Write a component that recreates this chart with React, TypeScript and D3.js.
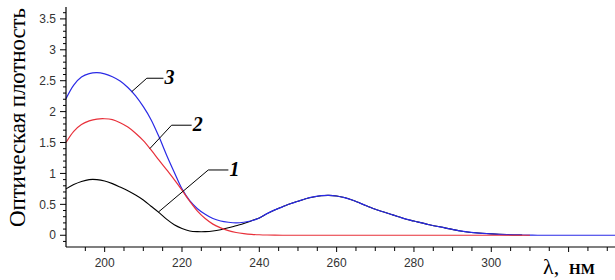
import React from 'react';
import * as d3 from 'd3';

const wavelengths = [
  190, 192, 194, 196, 198, 200, 202, 204, 206, 208, 210, 212, 214, 216, 218, 220,
  222, 224, 226, 228, 230, 232, 234, 236, 238, 240, 242, 244, 246, 248, 250, 252,
  254, 256, 258, 260, 262, 264, 266, 268, 270, 272, 274, 276, 278, 280, 284, 288,
  292, 296, 300, 304, 308, 310, 312, 320, 332,
];

// curve 1 (black)
const series1: (number | null)[] = [
  0.75, 0.82, 0.87, 0.9, 0.9, 0.878, 0.835, 0.78, 0.72, 0.65, 0.57, 0.47, 0.37, 0.26, 0.17, 0.11,
  0.07, 0.058, 0.058, 0.068, 0.09, 0.12, 0.155, 0.19, 0.235, 0.28, 0.35, 0.41, 0.46, 0.51, 0.55, 0.59,
  0.62, 0.64, 0.645, 0.635, 0.61, 0.57, 0.52, 0.47, 0.42, 0.38, 0.34, 0.3, 0.26, 0.23, 0.17, 0.12,
  0.07, 0.04, 0.022, 0.01, 0.004, null, null, null, null,
];

// curve 2 (red)
const series2: (number | null)[] = [
  1.5, 1.68, 1.79, 1.85, 1.88, 1.885, 1.87, 1.82, 1.75, 1.65, 1.53, 1.38, 1.22, 1.06, 0.9, 0.73,
  0.55, 0.39, 0.27, 0.18, 0.12, 0.075, 0.045, 0.027, 0.015, 0.008, 0.004, 0.002, 0, 0, 0, 0,
  0, 0, 0, 0, 0, 0, 0, 0, 0, 0, 0, 0, 0, 0, 0, 0,
  0, 0, 0, 0, 0, 0, null, null, null,
];

// curve 3 (blue)
const series3: (number | null)[] = [
  2.21, 2.43, 2.56, 2.615, 2.63, 2.61, 2.565, 2.495, 2.39, 2.255, 2.08, 1.87, 1.6, 1.3, 1.02, 0.75,
  0.56, 0.43, 0.34, 0.27, 0.23, 0.21, 0.2, 0.21, 0.235, 0.28, 0.35, 0.41, 0.46, 0.51, 0.55, 0.59,
  0.62, 0.64, 0.645, 0.635, 0.61, 0.57, 0.52, 0.47, 0.42, 0.38, 0.34, 0.3, 0.26, 0.23, 0.17, 0.12,
  0.07, 0.04, 0.022, 0.01, 0.004, 0.002, 0, 0, 0,
];

const yTickLabels = ['0', '0.5', '1', '1.5', '2', '2.5', '3', '3.5'];
const xTickLabels = ['200', '220', '240', '260', '280', '300'];

const yTitle = 'Оптическая плотность';
const xTitleSymbol = 'λ,';
const xTitleUnit = 'НМ';

// annotations: label, series, start wavelength on curve, elbow (wavelength, value), end wavelength
const annotations = [
  { label: '1', series: 0, start: 213.9, elbowX: 226.8, elbowY: 1.056, end: 232.0 },
  { label: '2', series: 1, start: 211.7, elbowX: 217.3, elbowY: 1.78, end: 222.5 },
  { label: '3', series: 2, start: 207, elbowX: 210.9, elbowY: 2.54, end: 215.2 },
];

const W = 615;
const H = 280;

export default function App() {
  const x = d3.scaleLinear().domain([190, 332]).range([66, 615]);
  const y = d3.scaleLinear().domain([-0.19, 3.66]).range([247, 9]);

  const allSeries = [series1, series2, series3];
  const colors = ['#000000', '#e8303a', '#2a2ae6'];

  const mk = (vals: (number | null)[]) =>
    d3
      .line<number>()
      .defined((_, i) => vals[i] !== null)
      .x((_, i) => x(wavelengths[i]))
      .y((_, i) => y(vals[i] as number))
      .curve(d3.curveCatmullRom.alpha(0.5))(wavelengths.map((_, i) => i)) || '';

  const valueAt = (vals: (number | null)[], w: number) => {
    const pts = wavelengths
      .map((wl, i) => [wl, vals[i]] as [number, number | null])
      .filter((p) => p[1] !== null) as [number, number][];
    for (let i = 0; i < pts.length - 1; i++) {
      if (w >= pts[i][0] && w <= pts[i + 1][0]) {
        const t = (w - pts[i][0]) / (pts[i + 1][0] - pts[i][0]);
        return pts[i][1] + t * (pts[i + 1][1] - pts[i][1]);
      }
    }
    return 0;
  };

  const yMinor = d3.range(-1, 37).map((i) => i / 10);
  const xMinor = d3.range(195, 331, 5);

  const sans = 'Liberation Sans, Arial, sans-serif';
  const serif = 'Liberation Serif, Times New Roman, serif';

  return (
    <svg
      width={W}
      height={H}
      style={{ position: 'absolute', left: 0, top: 0, background: '#fff' }}
    >
      {/* curves */}
      <path d={mk(series1)} fill="none" stroke={colors[0]} strokeWidth={1.1} />
      <path d={mk(series3)} fill="none" stroke={colors[2]} strokeWidth={1.2} />
      <path d={mk(series2)} fill="none" stroke={colors[1]} strokeWidth={1.2} />

      {/* axes */}
      <line x1={66} x2={66} y1={7} y2={y(-0.19)} stroke="#000" strokeWidth={1.2} />
      <line x1={66} x2={615} y1={y(-0.19)} y2={y(-0.19)} stroke="#000" strokeWidth={1.2} />

      {yMinor.map((v) => {
        const major = Math.abs(v * 2 - Math.round(v * 2)) < 1e-6;
        return (
          <line
            key={'ym' + v}
            x1={66}
            x2={major ? 60 : 63}
            y1={y(v)}
            y2={y(v)}
            stroke="#000"
            strokeWidth={1}
          />
        );
      })}
      {yTickLabels.map((t) => (
        <text
          key={'yl' + t}
          x={56}
          y={y(+t)}
          dy="0.35em"
          textAnchor="end"
          fontFamily={sans}
          fontSize={12}
          fill="#333"
        >
          {t}
        </text>
      ))}

      {xMinor.map((v) => (
        <line
          key={'xm' + v}
          x1={x(v)}
          x2={x(v)}
          y1={y(-0.19)}
          y2={y(-0.19) + (v % 20 === 0 ? 5 : 4)}
          stroke="#000"
          strokeWidth={1}
        />
      ))}
      {xTickLabels.map((t) => (
        <text
          key={'xl' + t}
          x={x(+t)}
          y={267}
          textAnchor="middle"
          fontFamily={sans}
          fontSize={12}
          fill="#333"
        >
          {t}
        </text>
      ))}

      {/* axis titles */}
      <text
        transform={`translate(25, ${(8 + 227) / 2}) rotate(-90)`}
        textAnchor="middle"
        fontFamily={serif}
        fontSize={23}
        textLength={219}
        lengthAdjust="spacing"
        fill="#000"
      >
        {yTitle}
      </text>
      <text x={543} y={274} fontFamily={serif} fontSize={22} fill="#000">
        {xTitleSymbol}
      </text>
      <text x={569} y={274} fontFamily={serif} fontSize={15} fontWeight="bold" fill="#000">
        {xTitleUnit}
      </text>

      {/* curve labels */}
      {annotations.map((a) => {
        const sv = valueAt(allSeries[a.series], a.start);
        const x0 = x(a.start);
        const y0 = y(sv);
        const x1 = x(a.elbowX);
        const y1 = y(a.elbowY);
        const x2 = x(a.end);
        return (
          <g key={'ann' + a.label}>
            <polyline
              points={`${x0},${y0} ${x1},${y1} ${x2},${y1}`}
              fill="none"
              stroke="#000"
              strokeWidth={1}
            />
            <text
              x={x2 + 1}
              y={y1 + 6}
              fontFamily={serif}
              fontSize={20}
              fontWeight="bold"
              fontStyle="italic"
              fill="#000"
            >
              {a.label}
            </text>
          </g>
        );
      })}
    </svg>
  );
}
